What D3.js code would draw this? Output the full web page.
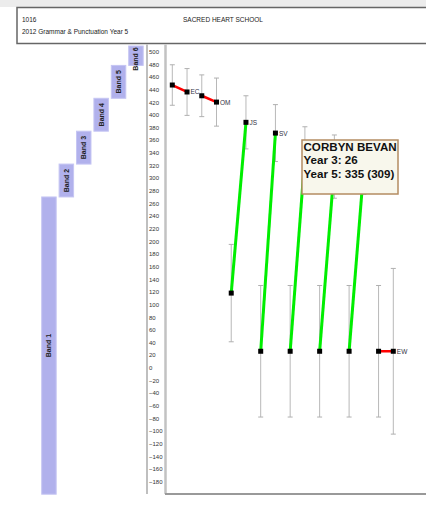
<!DOCTYPE html>
<html><head><meta charset="utf-8">
<script src="https://cdn.jsdelivr.net/npm/d3@7"></script>
<style>
html,body{margin:0;padding:0;background:#fff;}
svg{display:block;font-family:"Liberation Sans",Arial,sans-serif;}
</style></head><body>
<script>
// Scale ticks and NAPLAN band cut points
const yTicks = d3.range(-180, 501, 20);
const bandNames = ["Band 1", "Band 2", "Band 3", "Band 4", "Band 5", "Band 6"];
const bandEdges = [-200, 270, 322, 374, 426, 478, 530];

// Students: Year 3 and Year 5 scaled scores with their error margins
const students = ["EC", "OM", "JS", "SV", "", "", "", "EW"];
const year3    = [447, 430, 118, 26, 26, 26, 26, 26];
const year3Err = [32, 33, 77, 104, 104, 104, 104, 104];
const year5    = [436, 420, 388, 371, 335, 318, 316, 26];
const year5Err = [37, 38, 42, 45, 46, 50, 42, 131];

// Hover card
const tipName = "CORBYN BEVAN";
const tipIndex = 4;

const W = 426, H = 505;
const svg = d3.select("body").append("svg").attr("width", W).attr("height", H);

// page chrome
svg.append("rect").attr("x", 0).attr("y", 0).attr("width", W).attr("height", 7).attr("fill", "#ececec");
svg.append("rect").attr("x", 17).attr("y", 7.5).attr("width", W).attr("height", 36)
  .attr("fill", "#fff").attr("stroke", "#666").attr("stroke-width", 1.5);
svg.append("text").attr("x", 22).attr("y", 21.5).attr("font-size", 6.5).attr("fill", "#222").text("1016");
svg.append("text").attr("x", 183).attr("y", 21.5).attr("font-size", 6.5).attr("fill", "#222").text("SACRED HEART SCHOOL");
svg.append("text").attr("x", 22).attr("y", 33.5).attr("font-size", 6.5).attr("fill", "#222").text("2012 Grammar & Punctuation Year 5");

const plotTop = 44.5, plotBottom = 494;

const y = d3.scaleLinear().domain([-200, 500]).range([494.2, 51.5]);
const x = d3.scaleLinear().domain([0, 15]).range([172.3, 393.3]);
const bx = d3.scaleBand().domain(bandNames).range([41.7, 143.2]).paddingInner(0.167);

// band strip
const bands = bandNames.map((name, i) => ({name, lo: bandEdges[i], hi: bandEdges[i + 1]}));
const bandG = svg.append("g");
bands.forEach(b => {
  const top = Math.max(y(b.hi), plotTop + 1.5);
  const bot = y(b.lo);
  bandG.append("rect").attr("x", bx(b.name)).attr("y", top)
    .attr("width", bx.bandwidth()).attr("height", bot - top)
    .attr("fill", "#b1b1ec").attr("stroke", "#c6c6f3").attr("stroke-width", 1);
  const cy = b.name === "Band 6" ? top + 13 : (top + bot) / 2;
  const cx = bx(b.name) + bx.bandwidth() / 2;
  bandG.append("text").attr("transform", `translate(${cx + 2.4},${cy}) rotate(-90)`)
    .attr("text-anchor", "middle").attr("font-size", 7).attr("font-weight", "bold")
    .attr("fill", "#222").text(b.name);
});

// y axis panel
svg.append("line").attr("x1", 147).attr("x2", 147).attr("y1", plotTop).attr("y2", plotBottom)
  .attr("stroke", "#aaa").attr("stroke-width", 1.5);
const axis = svg.append("g").attr("transform", "translate(147,0)")
  .call(d3.axisRight(y).tickValues(yTicks).tickSize(0).tickPadding(2));
axis.select(".domain").remove();
axis.selectAll("text").attr("font-size", 6).attr("fill", "#333")
  .attr("font-family", "Liberation Sans, Arial, sans-serif");
svg.append("line").attr("x1", 165.5).attr("x2", 165.5).attr("y1", plotTop).attr("y2", plotBottom)
  .attr("stroke", "#c2c2c2").attr("stroke-width", 2.5);
svg.append("line").attr("x1", 165).attr("x2", W).attr("y1", plotBottom).attr("y2", plotBottom)
  .attr("stroke", "#999").attr("stroke-width", 2);

// plot marks
const data = students.map((s, i) => ({
  label: s, y3: year3[i], e3: year3Err[i], y5: year5[i], e5: year5Err[i], i
}));
const points = [];
data.forEach(d => {
  points.push({xi: 2 * d.i, v: d.y3, e: d.e3});
  points.push({xi: 2 * d.i + 1, v: d.y5, e: d.e5});
});

const g = svg.append("g");
// error bars
const eb = g.selectAll(".eb").data(points).enter().append("g");
eb.append("line").attr("x1", p => x(p.xi)).attr("x2", p => x(p.xi))
  .attr("y1", p => y(p.v + p.e)).attr("y2", p => y(p.v - p.e))
  .attr("stroke", "#b8b8b8").attr("stroke-width", 1);
[1, -1].forEach(sgn => {
  eb.append("line").attr("x1", p => x(p.xi) - 2.5).attr("x2", p => x(p.xi) + 2.5)
    .attr("y1", p => y(p.v + sgn * p.e)).attr("y2", p => y(p.v + sgn * p.e))
    .attr("stroke", "#b0b0b0").attr("stroke-width", 1);
});
// growth lines
g.selectAll(".gl").data(data).enter().append("line")
  .attr("x1", d => x(2 * d.i)).attr("y1", d => y(d.y3))
  .attr("x2", d => x(2 * d.i + 1)).attr("y2", d => y(d.y5))
  .attr("stroke", d => d.y5 > d.y3 ? "#00ee00" : "#ff0000")
  .attr("stroke-width", d => d.y5 > d.y3 ? 3 : 2.5);
// markers
g.selectAll(".mk").data(points).enter().append("rect")
  .attr("x", p => x(p.xi) - 2.5).attr("y", p => y(p.v) - 2.5)
  .attr("width", 5).attr("height", 5).attr("fill", "#000");
// initials
g.selectAll(".lb").data(data.filter(d => d.label)).enter().append("text")
  .attr("x", d => x(2 * d.i + 1) + 3.5).attr("y", d => y(d.y5) + 2.5)
  .attr("font-size", 6.5).attr("fill", "#334").text(d => d.label);

// hover card
const t = data[tipIndex];
const tip = svg.append("g").attr("transform", "translate(302,140)");
tip.append("rect").attr("width", 96).attr("height", 54)
  .attr("fill", "#f8f7ec").attr("stroke", "#b48c62").attr("stroke-width", 1.5);
[tipName, `Year 3: ${t.y3}`, `Year 5: ${t.y5} (${t.y5 - t.y3})`].forEach((s, k) => {
  tip.append("text").attr("x", 1.5).attr("y", 11 + k * 13.3).attr("font-size", 11.6)
    .attr("font-weight", "bold").attr("fill", "#111").text(s);
});
</script>
</body></html>
